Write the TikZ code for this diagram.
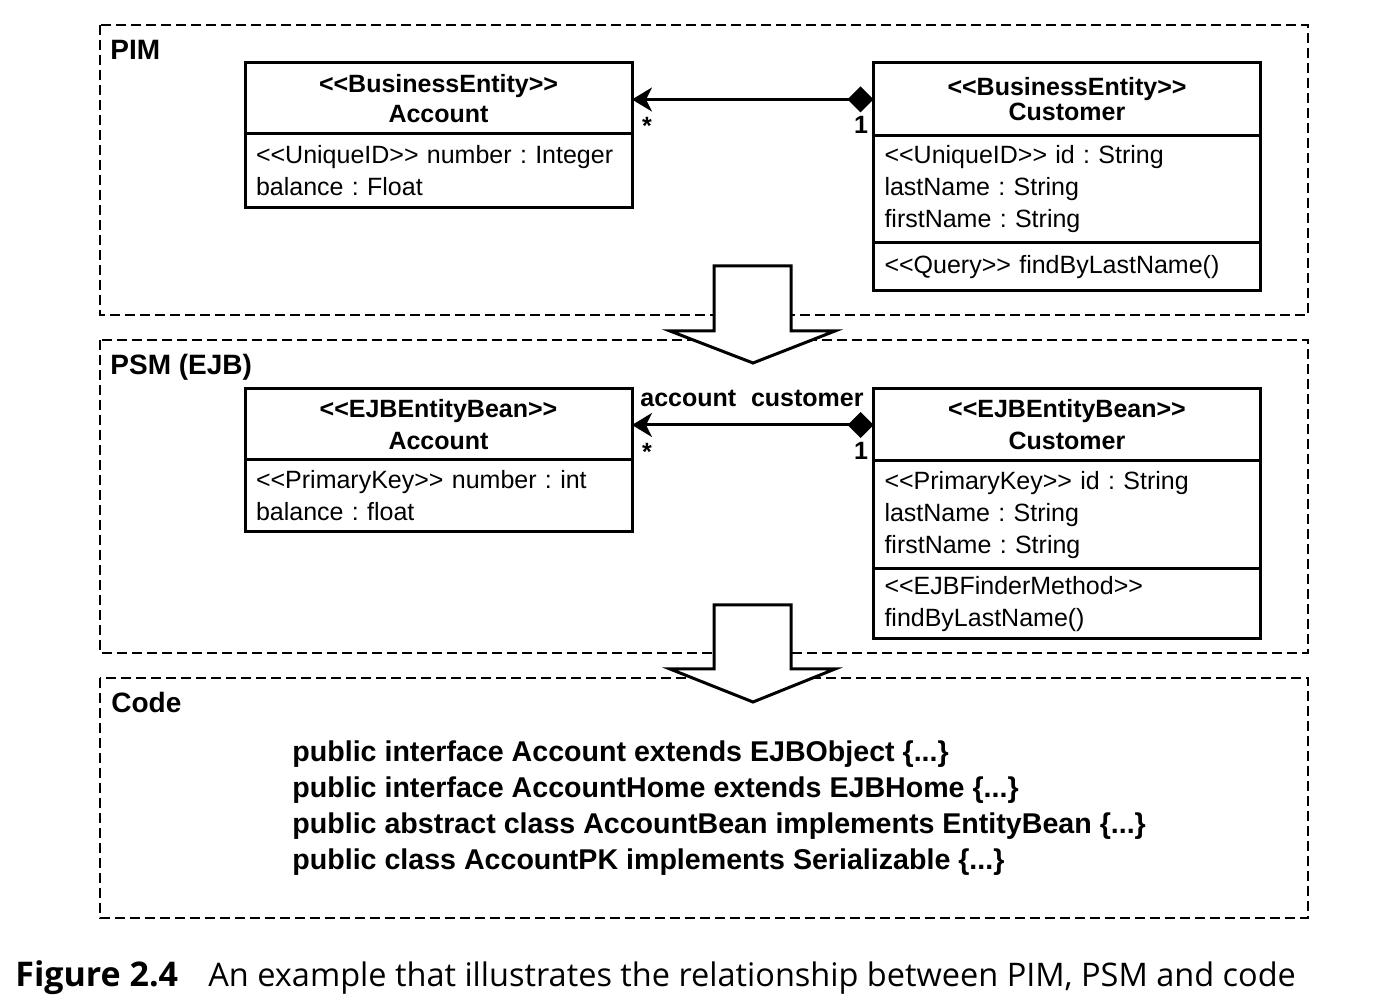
\documentclass[tikz,border=0pt]{standalone}
\usepackage{fontspec}
\setmainfont{Liberation Sans}[Ligatures=TeXOff]
\newfontfamily\capfont{Open Sans}
\usetikzlibrary{positioning, arrows.meta}
\frenchspacing

\tikzset{
  txt/.style = {font=\fontsize{12.5}{16}\selectfont},
  frame/.style = {line width=1.1pt, dash pattern=on 5pt off 2.5pt},
  framelabel/.style = {anchor=base west, inner sep=0pt, font=\fontsize{14}{16}\selectfont\bfseries},
  head/.style = {draw, line width=1.5pt, outer sep=0pt, minimum width=193.5pt, align=center, font=\fontsize{12.5}{15}\selectfont\bfseries},
  part/.style = {draw, line width=1.5pt, outer sep=0pt, text width=182.5pt, inner xsep=5.5pt, inner ysep=0pt, align=left, txt},
  assoc/.style = {line width=1.5pt, {Diamond[length=13pt,width=13pt]}-{Stealth[length=10pt,width=12pt,inset=3pt]}},
  mult/.style = {anchor=base, inner sep=0pt, font=\fontsize{12.5}{15}\selectfont\bfseries},
  bigarrow/.style = {draw, fill=white, line width=1.5pt, line join=miter}
}

\begin{document}
\begin{tikzpicture}[x=0.5pt, y=-0.5pt]
\useasboundingbox (0,0) rectangle (1388,1004);

% frames
\draw[frame] (100,25) rectangle (1308,315);
\draw[frame] (100,340) rectangle (1308,653);
\draw[frame] (100,678) rectangle (1308,918);
\node[framelabel] (pim) at (110,60) {PIM};
\node[framelabel] (psm) at (110,375) {PSM (EJB)};
\node[framelabel] (code) at (111,713) {Code};

% PIM
\node[head, minimum height=35.5pt] (acchead) at (438.5,98.5) {<<BusinessEntity>>\\Account};
\node[part, minimum height=37pt, below=0pt of acchead] (accattr) {<<UniqueID>> number : Integer\\balance : Float};

\node[head, minimum height=36.5pt, font=\fontsize{12.5}{12.5}\selectfont\bfseries] (custhead) at (1067,99.5) {<<BusinessEntity>>\\Customer};
\node[part, minimum height=53.5pt, below=0pt of custhead] (custattr) {<<UniqueID>> id : String\\lastName : String\\firstName : String};
\node[part, minimum height=24pt, below=0pt of custattr] (custop) {<<Query>> findByLastName()};

\draw[assoc] (custhead.west) -- (custhead.west -| acchead.east);
\node[mult] (m1) at (647,135) {*};
\node[mult] (n1) at (861,134) {1};

% PSM
\node[head, minimum height=35.5pt, font=\fontsize{12.5}{16}\selectfont\bfseries] (beanhead) at (438.5,424.5) {<<EJBEntityBean>>\\Account};
\node[part, minimum height=36pt, below=0pt of beanhead] (beanattr) {<<PrimaryKey>> number : int\\balance : float};

\node[head, minimum height=36pt, font=\fontsize{12.5}{16}\selectfont\bfseries] (ejbhead) at (1067,425) {<<EJBEntityBean>>\\Customer};
\node[part, minimum height=54pt, below=0pt of ejbhead] (ejbattr) {<<PrimaryKey>> id : String\\lastName : String\\firstName : String};
\node[part, minimum height=35pt, below=0pt of ejbattr] (ejbop) {<<EJBFinderMethod>>\\findByLastName()};

\draw[assoc] (ejbhead.west) -- (ejbhead.west -| beanhead.east);
\node[mult] (m2) at (647,461) {*};
\node[mult] (n2) at (861,460) {1};
\node[mult, anchor=base west] (role1) at (640,407) {account};
\node[mult, anchor=base east] (role2) at (864,407) {customer};

% transformations
\draw[bigarrow] (714,266) -- (791,266) -- (791,331) -- (835,331) -- (753,363) -- (670,331) -- (714,331) -- cycle;
\draw[bigarrow] (714,605) -- (791,605) -- (791,669) -- (835,669) -- (753,702) -- (670,669) -- (714,669) -- cycle;

% code
\node[anchor=north west, inner sep=0pt, align=left, font=\fontsize{14.3}{18}\selectfont\bfseries] (src) at (292,740)
  {public interface Account extends EJBObject \{...\}\\
   public interface AccountHome extends EJBHome \{...\}\\
   public abstract class AccountBean implements EntityBean \{...\}\\
   public class AccountPK implements Serializable \{...\}};

% caption
\node[anchor=base west, inner sep=0pt, font=\capfont\fontsize{17}{20}\selectfont\bfseries] (fig) at (15,987) {Figure 2.4};
\node[anchor=base west, inner sep=0pt, font=\capfont\fontsize{16.25}{20}\selectfont] (cap) at (208,987) {An example that illustrates the relationship between PIM, PSM and code};
\end{tikzpicture}
\end{document}
